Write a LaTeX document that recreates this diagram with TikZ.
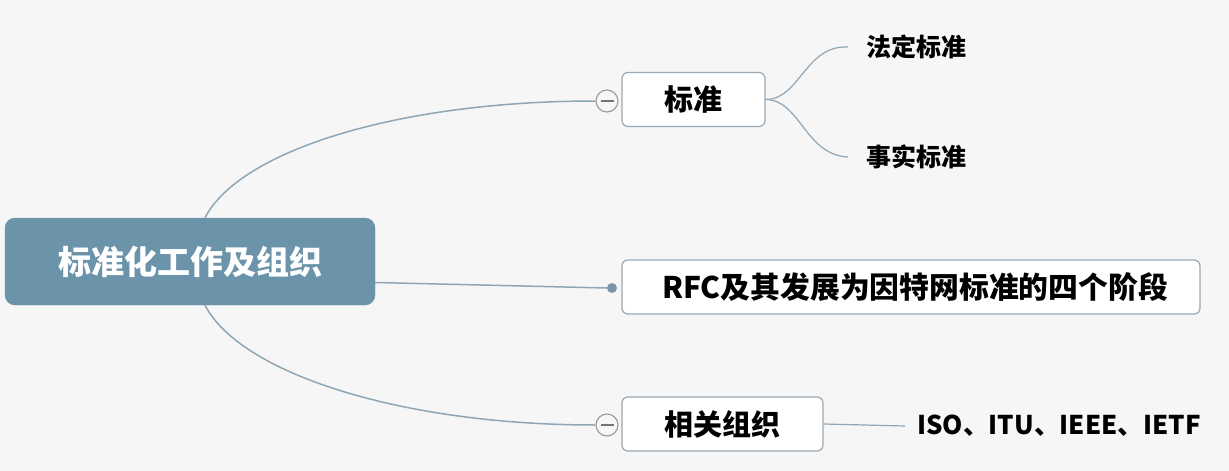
\documentclass[tikz,border=0pt]{standalone}
\usepackage{fontspec}
\setmainfont{Noto Sans CJK SC}
\definecolor{bgcol}{HTML}{F6F6F6}
\definecolor{mainfill}{HTML}{6B93AA}
\definecolor{boxline}{HTML}{9AA8B3}
\definecolor{connline}{HTML}{8FA6B6}
\definecolor{dotfill}{HTML}{7895AA}
\tikzset{
  mainbox/.style={draw=mainfill, fill=mainfill, rounded corners=10pt, minimum width=370pt, minimum height=87pt, text=white, font=\fontsize{33}{38}\selectfont\bfseries, inner sep=0pt},
  subbox/.style={draw=boxline, line width=1.2pt, fill=white, rounded corners=6pt, minimum height=54pt, font=\fontsize{29}{33}\selectfont\bfseries, inner sep=0pt},
  leaf/.style={anchor=west, inner sep=0pt, font=\fontsize{25}{29}\selectfont\bfseries},
  conn/.style={draw=connline, line width=1.5pt},
  collapse/.style={circle, draw=gray!80, line width=1.1pt, fill=bgcol, minimum size=22pt, inner sep=0pt},
  dotnode/.style={circle, fill=dotfill, minimum size=10pt, inner sep=0pt}
}
\begin{document}
\begin{tikzpicture}[x=1pt,y=-1pt]
\useasboundingbox (0,0) rectangle (1229,471);
\fill[bgcol] (0,0) rectangle (1229,471);

\node[mainbox] (main) at (190,261.5) {标准化工作及组织};
\node[subbox, minimum width=143pt] (std) at (693.5,99.5) {标准};
\node[subbox, minimum width=578pt, font=\fontsize{29.8}{34}\selectfont\bfseries] (rfc) at (911,287) {\hspace{8pt}RFC及其发展为因特网标准的四个阶段};
\node[subbox, minimum width=201pt] (org) at (722.5,424) {相关组织};

\node[leaf] (l1) at (866,47) {法定标准};
\node[leaf] (l2) at (866,157) {事实标准};
\node[leaf, font=\fontsize{25.8}{30}\selectfont\bfseries] (iso) at (917,426) {ISO、ITU、IEEE、IETF};

\node[collapse] (c1) at (607,101) {};
\node[collapse] (c2) at (607,425) {};
\node[dotnode] (d) at (612,288) {};

% connectors
\draw[conn] ([xshift=15pt]main.north) .. controls (240,150) and (400,101) .. (c1.west);
\draw[conn] ([xshift=15pt]main.south) .. controls (240,373) and (400,425) .. (c2.west);
\draw[conn] ([yshift=-21pt]main.east) -- (d.west);
\draw[conn, line width=1.2pt] (std.east) .. controls (800,99.5) and (805,45) .. ([xshift=-18pt]l1.west);
\draw[conn, line width=1.2pt] (std.east) .. controls (800,99.5) and (805,155) .. ([xshift=-18pt]l2.west);
\draw[conn, line width=1.2pt] (org.east) -- ([xshift=-12pt]iso.west);

\draw[gray!90!black, line width=1.2pt] ([xshift=-6.5pt]c1.center) -- ([xshift=6.5pt]c1.center);
\draw[gray!90!black, line width=1.2pt] ([xshift=-6.5pt]c2.center) -- ([xshift=6.5pt]c2.center);
\end{tikzpicture}
\end{document}
